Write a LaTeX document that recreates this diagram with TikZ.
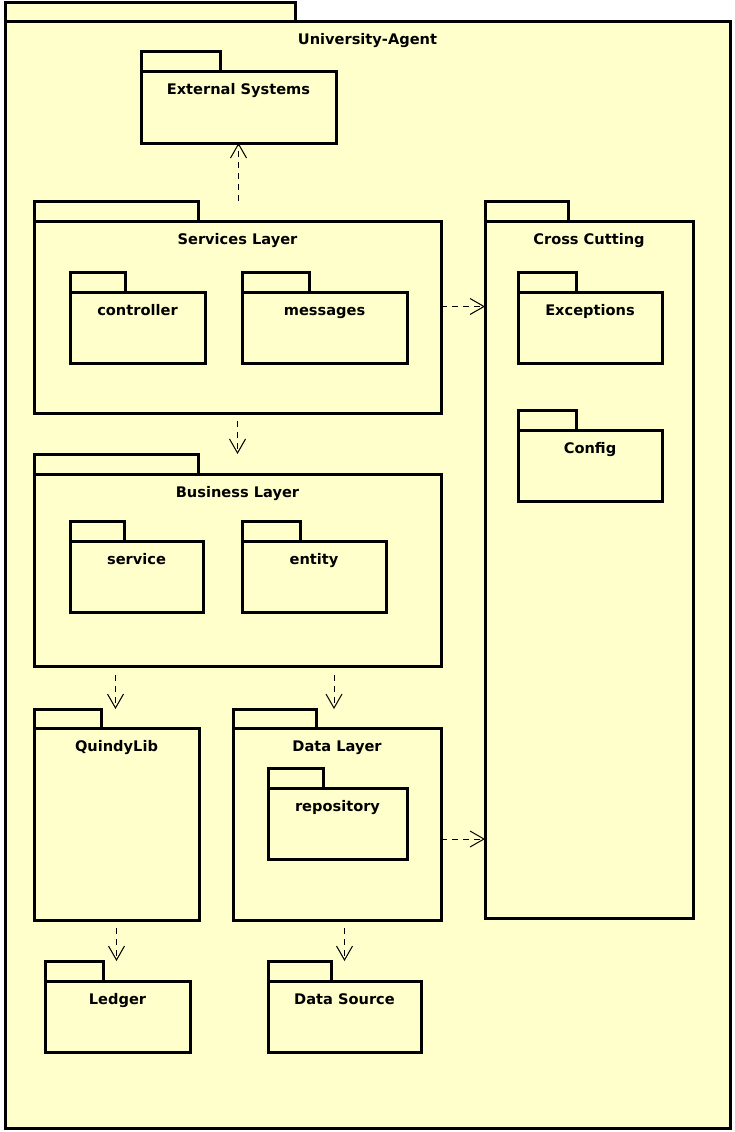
\documentclass[tikz,border=0pt]{standalone}
\usepackage{fontspec}
\setmainfont{DejaVu Sans}
\usetikzlibrary{arrows.meta,calc}
\definecolor{pkgfill}{HTML}{FFFFCC}
\newcommand\umlpkg[8]{%
  \node[pkgline, anchor=north west, minimum width={(#4-#2)*1pt}, minimum height={(#6-#5)*1pt}] (#1tab) at (#2,#5) {};
  \node[pkgline, anchor=north west, minimum width={(#3-#2)*1pt}, minimum height={(#7-#6)*1pt}] (#1) at (#2,#6) {};
  \node[pkglabel] (#1lbl) at ({(#2+#3)/2},{#6+23}) {#8};
}
\begin{document}
\begin{tikzpicture}[x=1pt,y=-1pt,
  pkgline/.style={draw=black, line width=3pt, fill=pkgfill, inner sep=0pt, outer sep=0pt, rectangle},
  pkglabel/.style={font=\bfseries\fontsize{14.6}{17}\selectfont, anchor=base, inner sep=0pt},
  dep/.style={draw=black, line width=1pt, dash pattern=on 6pt off 5pt,
    -{Straight Barb[length=14pt,width=16pt,line width=1pt]}}]
\useasboundingbox (0,0) rectangle (734,1132);
\fill[white] (0,0) rectangle (734,1132);
\umlpkg{ua}{5}{730}{295}{3}{22}{1128}{University-Agent}
\umlpkg{ext}{141}{336}{220}{52}{72}{143}{External Systems}
\umlpkg{svc}{34}{441}{198}{201}{221}{413}{Services Layer}
\umlpkg{ctrl}{70}{205}{125}{272}{292}{363}{controller}
\umlpkg{msg}{242}{407}{309}{272}{292}{363}{messages}
\umlpkg{cross}{485}{693}{568}{201}{221}{918}{Cross Cutting}
\umlpkg{exc}{518}{662}{576}{272}{292}{363}{Exceptions}
\umlpkg{cfg}{518}{662}{576}{410}{430}{501}{Config}
\umlpkg{bus}{34}{441}{198}{454}{474}{666}{Business Layer}
\umlpkg{srv}{70}{203}{124}{521}{541}{612}{service}
\umlpkg{ent}{242}{386}{300}{521}{541}{612}{entity}
\umlpkg{qdl}{34}{199}{101}{709}{728}{920}{QuindyLib}
\umlpkg{dat}{233}{441}{316}{709}{728}{920}{Data Layer}
\umlpkg{rep}{268}{407}{323}{768}{788}{859}{repository}
\umlpkg{led}{45}{190}{103}{961}{981}{1052}{Ledger}
\umlpkg{dsrc}{268}{421}{331}{961}{981}{1052}{Data Source}
% dependencies
\draw[dep] (svctab.north -| ext.south) -- (ext.south);
\draw[dep] ($(svc.south)+(0,8)$) -- (svc.south |- bustab.north);
\draw[dep] ($(svc.east)+(0,-10.5)$) -- ($(svc.east -| cross.west)+(0,-10.5)$);
\draw[dep] ($(bus.south -| qdl.north)+(-1,9)$) -- ($(qdltab.north -| qdl.north)+(-1,0)$);
\draw[dep] ($(bus.south -| dat.north)+(-3,9)$) -- ($(dattab.north -| dat.north)+(-3,0)$);
\draw[dep] ($(dat.east)+(0,15)$) -- ($(dat.east -| cross.west)+(0,15)$);
\draw[dep] ($(qdl.south)+(0,8)$) -- (qdl.south |- ledtab.north);
\draw[dep] ($(dat.south -| dsrc.north)+(0,8)$) -- (dsrc.north |- dsrctab.north);
\end{tikzpicture}
\end{document}
